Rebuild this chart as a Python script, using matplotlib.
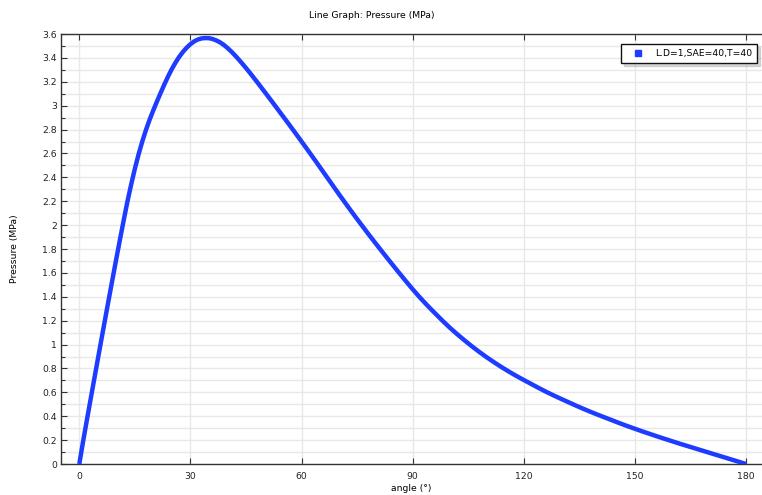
import numpy as np
import matplotlib
matplotlib.use("Agg")
import matplotlib.pyplot as plt
from matplotlib.ticker import MultipleLocator, FormatStrFormatter


# data
angle = [0, 1, 2, 3, 4, 5, 6, 7, 8, 9, 10, 11, 12, 13, 14, 15, 16, 17, 18, 19,
         20, 21, 22, 23, 24, 25, 26, 27, 28, 29, 30, 31, 32, 33, 34, 35, 36,
         37, 38, 39, 40, 41, 42, 43, 44, 45, 46, 48, 50, 52, 54, 56, 58, 60,
         62, 64, 66, 68, 70, 72, 74, 76, 78, 80, 82, 84, 86, 88, 90, 92, 94,
         96, 98, 100, 102, 104, 106, 108, 110, 112, 114, 116, 118, 120, 122,
         124, 126, 128, 130, 132, 134, 136, 138, 140, 142, 144, 146, 148, 150,
         152, 154, 156, 158, 160, 162, 164, 166, 168, 170, 172, 174, 176, 178,
         180]
pressure = [0.0, 0.185, 0.36, 0.533, 0.705, 0.877, 1.048, 1.218, 1.387, 1.554,
            1.72, 1.883, 2.043, 2.198, 2.340, 2.472, 2.592, 2.700, 2.797,
            2.884, 2.963, 3.038, 3.110, 3.180, 3.247, 3.308, 3.362, 3.410,
            3.451, 3.486, 3.515, 3.538, 3.554, 3.563, 3.566, 3.565, 3.558,
            3.546, 3.530, 3.509, 3.483, 3.454, 3.422, 3.388, 3.352, 3.315,
            3.277, 3.198, 3.117, 3.035, 2.952, 2.869, 2.785, 2.700, 2.614,
            2.527, 2.439, 2.351, 2.263, 2.177, 2.092, 2.009, 1.927, 1.847,
            1.768, 1.690, 1.613, 1.537, 1.463, 1.392, 1.326, 1.263, 1.201,
            1.142, 1.087, 1.035, 0.985, 0.938, 0.893, 0.851, 0.811, 0.773,
            0.737, 0.703, 0.670, 0.637, 0.605, 0.575, 0.546, 0.518, 0.490,
            0.463, 0.437, 0.412, 0.388, 0.364, 0.340, 0.317, 0.295, 0.273,
            0.252, 0.231, 0.211, 0.191, 0.171, 0.152, 0.133, 0.114, 0.095,
            0.076, 0.057, 0.038, 0.019, 0.0]
series_label = "L.D=1,SAE=40,T=40"
x_ticks = [0, 30, 60, 90, 120, 150, 180]

fs = 6.7

plt.rcParams["font.family"] = "DejaVu Sans"

fig = plt.figure(figsize=(7.62, 4.95), dpi=100)
ax = fig.add_axes([61 / 762, 1 - 464 / 495, 1 - 61 / 762, (464 - 34) / 495])

ax.plot(angle, pressure, color="#1e3cff", linewidth=3.2,
        solid_capstyle="butt", label=series_label, zorder=3)

ax.set_xlim(-4.94, 184.3)
ax.set_ylim(0, 3.6)

ax.set_xticks(x_ticks)
ax.yaxis.set_major_locator(MultipleLocator(0.2))
ax.yaxis.set_minor_locator(MultipleLocator(0.1))
ax.yaxis.set_major_formatter(FormatStrFormatter("%g"))

ax.grid(True, which="major", color="#e8e8e8", linewidth=1)
ax.grid(True, which="minor", axis="y", color="#e8e8e8", linewidth=1)
ax.set_axisbelow(True)

ax.tick_params(which="both", direction="in", top=True, right=False,
               labelsize=fs, colors="#333333", labelcolor="#222222")
ax.tick_params(which="major", length=4, width=0.8)
ax.tick_params(which="minor", length=3, width=0.8)
ax.tick_params(axis="x", pad=6)
ax.tick_params(axis="y", pad=3)

for side in ["left", "bottom", "top"]:
    ax.spines[side].set_color("#333333")
    ax.spines[side].set_linewidth(1)
ax.spines["right"].set_visible(False)

ax.set_xlabel("angle (°)", fontsize=fs, labelpad=2)
ax.set_ylabel("Pressure (MPa)", fontsize=fs, labelpad=17)
fig.text(372 / 762, 1 - 15 / 495, "Line Graph: Pressure (MPa)",
         fontsize=fs, ha="center", va="center")

leg = ax.legend(loc="upper right", bbox_to_anchor=(0.993, 0.977),
                borderaxespad=0, fontsize=fs, frameon=True, fancybox=False,
                shadow={"color": "0.7", "alpha": 0.5}, edgecolor="#111111",
                handlelength=2.5, handletextpad=0.6, borderpad=0.55)
leg.get_frame().set_linewidth(1)
for h in leg.legend_handles:
    h.set_linewidth(0)
    h.set_marker("s")
    h.set_markersize(4.2)
    h.set_markerfacecolor("#1e3cff")
    h.set_markeredgecolor("#1e3cff")

plt.savefig("out.png", dpi=100)
